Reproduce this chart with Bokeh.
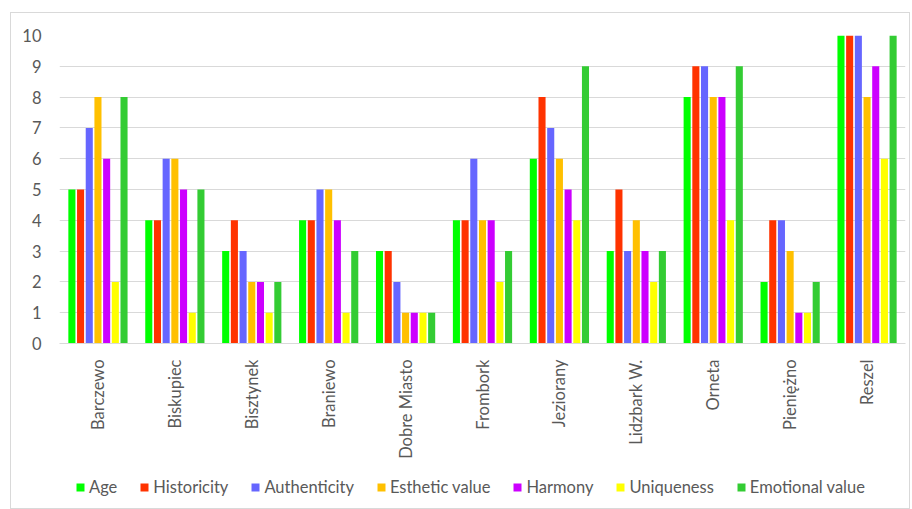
import math
from bokeh.plotting import figure
from bokeh.models import ColumnDataSource, FactorRange, Legend, LegendItem
from bokeh.layouts import column
from bokeh.transform import dodge
from bokeh.embed import file_html
from bokeh.resources import INLINE

cities = ["Barczewo", "Biskupiec", "Bisztynek", "Braniewo", "Dobre Miasto",
          "Frombork", "Jeziorany", "Lidzbark W.", "Orneta", "Pieniężno", "Reszel"]
series_names = ["Age", "Historicity", "Authenticity", "Esthetic value",
                "Harmony", "Uniqueness", "Emotional value"]
age          = [5, 4, 3, 4, 3, 4, 6, 3, 8, 2, 10]
historicity  = [5, 4, 4, 4, 3, 4, 8, 5, 9, 4, 10]
authenticity = [7, 6, 3, 5, 2, 6, 7, 3, 9, 4, 10]
esthetic     = [8, 6, 2, 5, 1, 4, 6, 4, 8, 3, 8]
harmony      = [6, 5, 2, 4, 1, 4, 5, 3, 8, 1, 9]
uniqueness   = [2, 1, 1, 1, 1, 2, 4, 2, 4, 1, 6]
emotional    = [8, 5, 2, 3, 1, 3, 9, 3, 9, 2, 10]
y_ticks = list(range(0, 11))

colors = ["#00FF00", "#FF3300", "#6666FF", "#FFC000", "#CC00FF", "#FFFF00", "#33CC33"]
keys = ["age", "historicity", "authenticity", "esthetic", "harmony", "uniqueness", "emotional"]
values = [age, historicity, authenticity, esthetic, harmony, uniqueness, emotional]

data = {"city": cities}
for k, v in zip(keys, values):
    data[k] = v
source = ColumnDataSource(data)

FONT = "Lato"
TXT = "#595959"
FS = "16.5px"

p = figure(x_range=FactorRange(*cities, range_padding=0), y_range=(0, 10),
           width=898, height=455, output_backend="svg", toolbar_location=None,
           min_border_left=48, min_border_right=4, min_border_top=22, min_border_bottom=125)
p.outline_line_color = None
p.background_fill_color = "white"
p.border_fill_color = "white"

slot = 0.113
renderers = []
for i, (k, c) in enumerate(zip(keys, colors)):
    r = p.vbar(x=dodge("city", (i - 3) * slot, range=p.x_range), top=k, width=0.092,
               source=source, fill_color=c, line_color=None)
    renderers.append(r)

p.xgrid.grid_line_color = None
p.ygrid.grid_line_color = "#D9D9D9"
p.ygrid.grid_line_width = 1
p.yaxis.ticker = y_ticks
p.yaxis.axis_line_color = None
p.yaxis.major_tick_line_color = None
p.yaxis.minor_tick_line_color = None
p.yaxis.major_label_standoff = 12
p.yaxis.major_label_text_font = FONT
p.yaxis.major_label_text_font_size = FS
p.yaxis.major_label_text_color = TXT

p.xaxis.axis_line_color = "#D9D9D9"
p.xaxis.major_tick_line_color = None
p.xaxis.minor_tick_line_color = None
p.xaxis.major_label_orientation = math.pi / 2
p.xaxis.major_label_standoff = 10
p.xaxis.major_label_text_font = FONT
p.xaxis.major_label_text_font_size = FS
p.xaxis.major_label_text_color = TXT

# legend in its own strip below the chart
lg = figure(width=898, height=40, x_range=(0, 1), y_range=(0, 1),
            x_axis_location=None, y_axis_location=None,
            output_backend="svg", toolbar_location=None,
            min_border_left=0, min_border_right=0, min_border_top=0, min_border_bottom=0)
lg.grid.visible = False
lg.outline_line_color = None
lg.background_fill_color = "white"
lg.border_fill_color = "white"
lg_renderers = []
for c in colors:
    lg_renderers.append(lg.vbar(x=[-5], top=[-5], width=0.1, fill_color=c, line_color=None))
items = [LegendItem(label=n, renderers=[r]) for n, r in zip(series_names, lg_renderers)]
legend = Legend(items=items, orientation="horizontal", location=(16, 11),
                glyph_width=10, glyph_height=10, label_standoff=4, spacing=22,
                label_text_font=FONT, label_text_font_size=FS,
                label_text_color=TXT, border_line_color=None,
                background_fill_alpha=0, padding=0, margin=0)
lg.add_layout(legend, "center")

layout = column(p, lg, spacing=0)
layout.margin = (12, 0, 0, 10)
layout.styles = {"border": "1px solid #D9D9D9"}

open("out.html", "w").write(file_html(layout, INLINE))
